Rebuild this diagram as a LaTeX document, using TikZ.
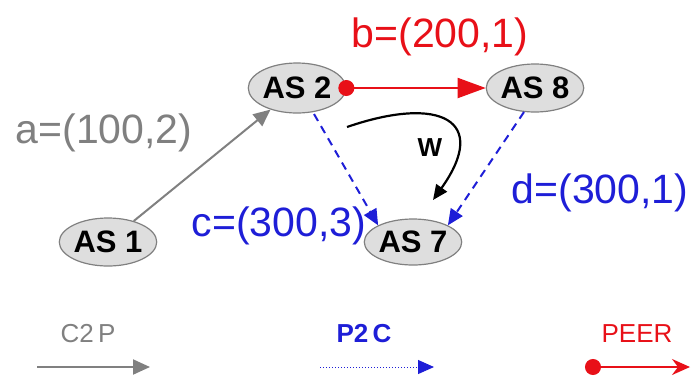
\documentclass[tikz,border=0pt]{standalone}
\usepackage{fontspec}
\setmainfont{Liberation Sans}
\usetikzlibrary{arrows.meta,shapes.geometric}
\definecolor{cgray}{RGB}{128,128,128}
\definecolor{cred}{RGB}{232,16,24}
\definecolor{cblue}{RGB}{30,30,215}
\definecolor{cfill}{RGB}{222,222,222}
\tikzset{
  asnode/.style={ellipse, draw=cgray, line width=1.2pt, fill=cfill, minimum width=80pt, minimum height=48pt, inner sep=0pt, font=\fontsize{31}{33}\selectfont\bfseries},
  lbl/.style={font=\fontsize{41}{44}\selectfont, inner sep=0pt},
  leg/.style={font=\fontsize{26}{28}\selectfont, inner sep=0pt},
  c2p/.style={draw=cgray, line width=2pt, -{Triangle[length=17pt,width=15pt]}},
  p2c/.style={draw=cblue, line width=2pt, dash pattern=on 8pt off 6pt, -{Triangle[length=16pt,width=14pt]}},
  peer/.style={draw=cred, line width=2pt, {Circle[length=16pt]}-{Triangle[length=28pt,width=20pt]}},
}
\begin{document}
\begin{tikzpicture}[x=1pt,y=-1pt]
\useasboundingbox (0,0) rectangle (692,378);
% nodes
\node[asnode] (as1) at (108,242) {AS 1};
\node[asnode, minimum width=84pt, minimum height=50pt] (as2) at (297,88) {AS 2};
\node[asnode] (as8) at (535,88) {AS 8};
\node[asnode, minimum height=46pt] (as7) at (413,242) {AS 7};
% edges
\draw[c2p] (as1) -- (as2);
\draw[peer, shorten <=-8pt] (as2.east) -- (as8.west);
\coordinate (s2) at (314,114);
\draw[p2c] (s2) -- (as7.north west);
\coordinate (s8) at (524,112);
\draw[p2c] (s8) -- (as7.north east);
\coordinate (w0) at (347,127);
\coordinate (w1) at (433,200);
\draw[line width=2.2pt, -{Triangle[length=15pt,width=13pt]}] (w0) .. controls (440,95) and (490,120) .. (w1);
% labels
\node[lbl, text=cgray] (la) at (104,133) {a=(100,2)};
\node[lbl, text=cred] (lb) at (440,37) {b=(200,1)};
\node[lbl, text=cblue] (lc) at (279,226) {c=(300,3)};
\node[lbl, text=cblue] (ld) at (600,193) {d=(300,1)};
\node[font=\fontsize{26}{28}\selectfont\bfseries, inner sep=0pt] (lw) at (430,148) {W};
% legend
\node[leg, text=cgray] (t1) at (88,334) {C2\,P};
\coordinate (g1a) at (37,367);
\coordinate (g1b) at (150,367);
\draw[c2p] (g1a) -- (g1b);
\node[leg, text=cblue, font=\fontsize{26}{28}\selectfont\bfseries] (t2) at (364,334) {P2\,C};
\coordinate (g2a) at (320,367);
\coordinate (g2b) at (434,367);
\draw[draw=cblue, line width=1pt, dotted, -{Triangle[length=16pt,width=14pt]}] (g2a) -- (g2b);
\node[leg, text=cred] (t3) at (637,334) {PEER};
\coordinate (g3a) at (593,367);
\coordinate (g3b) at (690,367);
\draw[draw=cred, line width=2pt, {Circle[length=16pt]}-{Stealth[length=18pt,width=16pt,inset=6pt]}, shorten <=-8pt] (g3a) -- (g3b);
\end{tikzpicture}
\end{document}
